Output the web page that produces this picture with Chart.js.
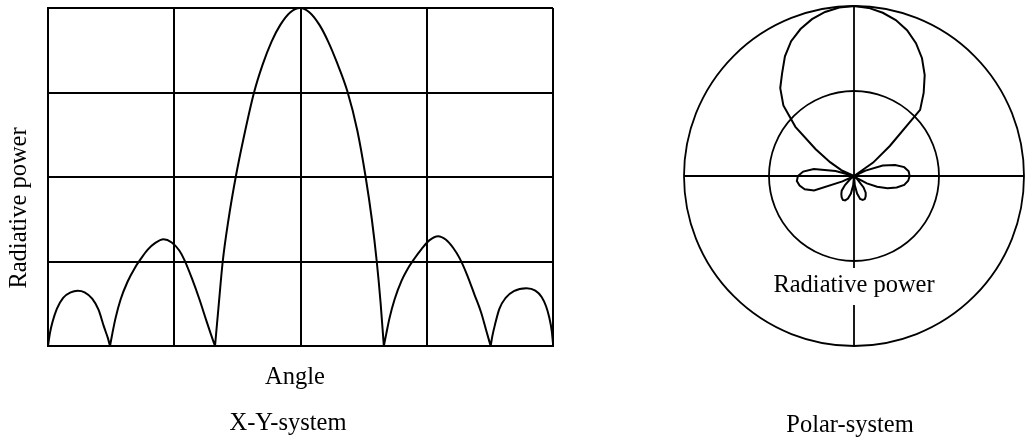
<!DOCTYPE html>
<html>
<head>
<meta charset="utf-8">
<title>Radiative power – X-Y and polar system</title>
<script src="https://cdn.jsdelivr.net/npm/chart.js@4.4.1/dist/chart.umd.min.js"></script>
<style>
  html, body { margin: 0; padding: 0; background: #fff; }
  #xyBox { position: absolute; left: 0; top: 0; width: 600px; height: 441px; }
  #polarBox { position: absolute; left: 600px; top: 0; width: 426px; height: 441px; }
</style>
</head>
<body>
<div id="xyBox"><canvas id="xyChart"></canvas></div>
<div id="polarBox"><canvas id="polarChart"></canvas></div>
<script>
// X-Y-system: angle in grid columns (0..4), power in grid rows (0..4); null breaks the curve between lobes
const xyAngle = [
  0, 0.015, 0.035, 0.07, 0.12, 0.18, 0.235, 0.29, 0.35, 0.40, 0.445, 0.475, 0.491, null,
  0.491, 0.51, 0.535, 0.575, 0.63, 0.69, 0.73, 0.79, 0.85, 0.915,
  0.98, 1.04, 1.08, 1.14, 1.20, 1.25, 1.29, 1.323, null,
  1.323, 1.35, 1.384, 1.43, 1.487, 1.555, 1.632, 1.70, 1.77, 1.84, 1.92, 1.996,
  2.07, 2.15, 2.22, 2.29, 2.37, 2.45, 2.516, 2.565, 2.604, 2.635, 2.66, null,
  2.66, 2.68, 2.705, 2.745, 2.80, 2.86, 2.90, 2.96, 3.02, 3.09,
  3.15, 3.21, 3.26, 3.32, 3.38, 3.43, 3.47, 3.506, null,
  3.506, 3.52, 3.54, 3.575, 3.625, 3.69, 3.79, 3.86, 3.91, 3.945, 3.97, 3.99, 4.0
];
const xyPower = [
  0, 0.15, 0.28, 0.44, 0.57, 0.635, 0.654, 0.635, 0.56, 0.43, 0.22, 0.09, 0, null,
  0, 0.15, 0.33, 0.55, 0.76, 0.93, 1.02, 1.14, 1.22, 1.263,
  1.225, 1.13, 1.02, 0.80, 0.55, 0.32, 0.14, 0, null,
  0, 0.45, 1.0, 1.5, 2.0, 2.5, 3.0, 3.33, 3.6, 3.8, 3.95, 4.0,
  3.95, 3.8, 3.6, 3.35, 3.02, 2.55, 2.0, 1.5, 1.0, 0.5, 0, null,
  0, 0.15, 0.33, 0.55, 0.77, 0.94, 1.03, 1.15, 1.25, 1.30,
  1.26, 1.16, 1.04, 0.84, 0.60, 0.40, 0.19, 0, null,
  0, 0.12, 0.25, 0.44, 0.57, 0.65, 0.683, 0.655, 0.58, 0.47, 0.34, 0.18, 0.03
];
const xyTicks = [0, 1, 2, 3, 4];

// Polar-system: direction in degrees (clockwise from top), power on the same 0..4 scale
const polarAngles = [
  0, 5, 10, 15, 20, 25, 30, 35, 40, 45, 50, 55,
  60, 65, 70, 75, 80, 85, 90, 95, 100, 105, 110, 115,
  120, 125, 130, 135, 140, 145, 150, 155, 160, 165, 170, 175,
  180, 185, 190, 195, 200, 205, 210, 215, 220, 225, 230, 235,
  240, 245, 250, 255, 260, 265, 270, 275, 280, 285, 290, 295,
  300, 305, 310, 315, 320, 325, 330, 335, 340, 345, 350, 355
];
const polarPower = [
  4.0, 3.97, 3.9, 3.8, 3.65, 3.45, 3.2, 2.9, 2.55, 2.2, 1.1, 0.55,
  0, 0.3, 0.72, 1.0, 1.2, 1.29, 1.31, 1.28, 1.2, 1.04, 0.84, 0.6,
  0.35, 0.1, 0, 0.12, 0.35, 0.48, 0.55, 0.6, 0.6, 0.56, 0.42, 0.22,
  0, 0.22, 0.42, 0.55, 0.61, 0.62, 0.58, 0.52, 0.45, 0.3, 0.12, 0,
  0, 0.3, 1.0, 1.2, 1.3, 1.35, 1.32, 1.2, 0.96, 0.45, 0, 0.33,
  0.65, 1.1, 1.8, 2.35, 2.7, 2.95, 3.25, 3.5, 3.68, 3.82, 3.92, 3.98
];
const polarRings = [0, 2, 4];

const FONT = '24.5px "Liberation Serif", "Times New Roman", serif';

// draws the free-standing captions (axis names, system names)
const captionPlugin = {
  id: 'captions',
  afterDraw(chart, args, opts) {
    const ctx = chart.ctx;
    (opts.items || []).forEach(item => {
      ctx.save();
      ctx.font = FONT;
      ctx.translate(item.x, item.y);
      ctx.rotate(item.rotation || 0);
      ctx.textAlign = 'center';
      ctx.textBaseline = 'alphabetic';
      if (item.clear) {
        // blank out the axis line behind the label
        const w = ctx.measureText(item.text).width;
        ctx.fillStyle = '#fff';
        ctx.fillRect(-w / 2 - 4, -item.clear[0], w + 8, item.clear[1]);
      }
      ctx.fillStyle = '#000';
      ctx.fillText(item.text, 0, 0);
      ctx.restore();
    });
  }
};

new Chart(document.getElementById('xyChart'), {
  type: 'line',
  data: {
    datasets: [{
      data: xyAngle.map((a, i) => ({ x: a, y: xyPower[i] })),
      borderColor: '#000',
      borderWidth: 2,
      pointRadius: 0,
      fill: false,
      spanGaps: false,
      cubicInterpolationMode: 'monotone'
    }]
  },
  options: {
    responsive: true,
    maintainAspectRatio: false,
    animation: false,
    devicePixelRatio: 1,
    layout: { padding: { left: 48, top: 8, right: 47, bottom: 95 } },
    scales: {
      x: {
        type: 'linear', min: xyTicks[0], max: xyTicks[xyTicks.length - 1],
        afterBuildTicks: s => { s.ticks = xyTicks.map(v => ({ value: v })); },
        ticks: { display: false },
        grid: { color: '#000', lineWidth: 2, drawTicks: false },
        border: { color: '#000', width: 2 }
      },
      y: {
        type: 'linear', min: xyTicks[0], max: xyTicks[xyTicks.length - 1],
        afterBuildTicks: s => { s.ticks = xyTicks.map(v => ({ value: v })); },
        ticks: { display: false },
        grid: { color: '#000', lineWidth: 2, drawTicks: false },
        border: { color: '#000', width: 2 }
      }
    },
    plugins: {
      legend: { display: false },
      tooltip: { enabled: false },
      captions: {
        items: [
          { text: 'Radiative power', x: 26, y: 208, rotation: -Math.PI / 2 },
          { text: 'Angle', x: 295, y: 384 },
          { text: 'X-Y-system', x: 288, y: 430 }
        ]
      }
    }
  },
  plugins: [captionPlugin]
});

new Chart(document.getElementById('polarChart'), {
  type: 'radar',
  data: {
    labels: polarAngles,
    datasets: [{
      data: polarPower,
      borderColor: '#000',
      backgroundColor: 'rgba(0,0,0,0)',
      borderWidth: 2,
      pointRadius: 0,
      fill: false
    }]
  },
  options: {
    responsive: true,
    maintainAspectRatio: false,
    animation: false,
    devicePixelRatio: 1,
    layout: { padding: { left: 84, top: 6, right: 2, bottom: 95 } },
    scales: {
      r: {
        min: polarRings[0], max: polarRings[polarRings.length - 1],
        ticks: { display: false, stepSize: 2 },
        grid: { circular: true, color: '#000', lineWidth: 1.8 },
        // only the four main directions get a line: a cross through the centre
        angleLines: { color: '#000', lineWidth: ctx => (ctx.index % 18 === 0 ? 1.8 : 0) },
        pointLabels: { display: false }
      }
    },
    plugins: {
      legend: { display: false },
      tooltip: { enabled: false },
      captions: {
        items: [
          { text: 'Radiative power', x: 254, y: 292, clear: [24, 37] },
          { text: 'Polar-system', x: 250, y: 432 }
        ]
      }
    }
  },
  plugins: [captionPlugin]
});
</script>
</body>
</html>
